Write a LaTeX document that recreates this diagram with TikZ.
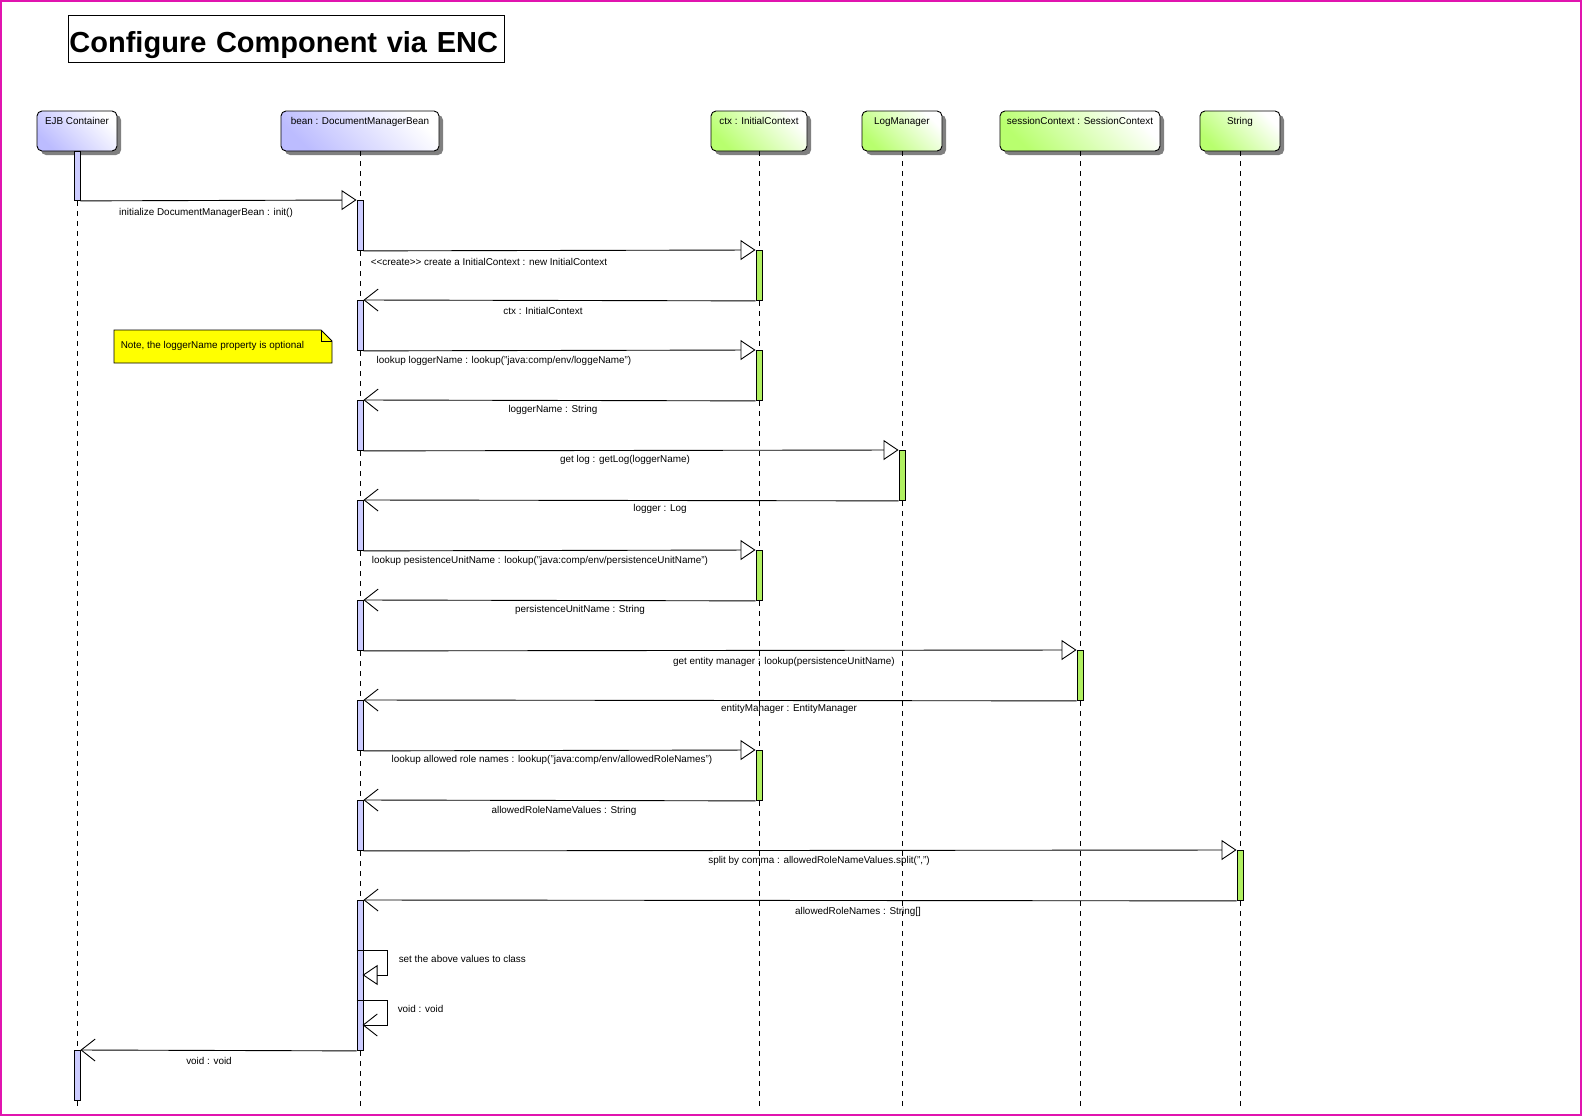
\documentclass[tikz,border=0pt]{standalone}
\usepackage{fontspec}
\setmainfont{Liberation Sans}
\usepackage{tikz}
\usetikzlibrary{arrows.meta,shadows}
\definecolor{lavender}{RGB}{188,188,255}
\definecolor{barblue}{RGB}{204,204,255}
\definecolor{limegreen}{RGB}{184,255,110}
\definecolor{bargreen}{RGB}{176,240,96}
\definecolor{framepink}{RGB}{225,20,175}
\definecolor{noteyellow}{RGB}{255,255,0}

\begin{document}
\begin{tikzpicture}[x=1pt, y=-1pt, line width=0.9pt,
  msg/.style={font=\fontsize{9.9}{10}\selectfont},
  head/.style={draw, rounded corners=5pt, minimum height=40pt, inner ysep=4pt,
    text height=9pt, text depth=23pt, font=\fontsize{9.9}{10}\selectfont,
    drop shadow={shadow xshift=4pt, shadow yshift=-4pt, fill=gray, opacity=1}},
  headblue/.style={head, left color=lavender, right color=white, shading angle=135},
  headgreen/.style={head, left color=limegreen, right color=white, shading angle=135},
  barblue/.style={draw, fill=barblue, minimum width=6pt, minimum height=50pt, inner sep=0pt, anchor=north},
  bargreen/.style={draw, fill=bargreen, minimum width=6pt, minimum height=50pt, inner sep=0pt, anchor=north},
  lifeline/.style={line width=0.8pt, dash pattern=on 5pt off 5pt},
  call/.style={-{Triangle[open, length=15pt, width=20pt]}},
  ret/.style={-{Straight Barb[length=14pt, width=22pt]}}]

  \useasboundingbox (0,0) rectangle (1582,1116);

  % Rahmen
  \draw[framepink, line width=2pt] (1,1) rectangle (1581,1115);

  % Titel
  \node[draw, anchor=north west, minimum height=47pt, inner xsep=1pt, inner ysep=0pt,
    text width=434pt, align=left, text height=27pt, text depth=0pt,
    font=\bfseries\fontsize{29}{29}\selectfont] (title) at (68,15) {Configure Component via ENC};

  % Objekte
  \node[headblue, minimum width=80pt] (ejb) at (77,131) {EJB Container};
  \node[headblue, minimum width=158pt] (bean) at (360,131) {bean : DocumentManagerBean};
  \node[headgreen, minimum width=96pt] (ctx) at (759,131) {ctx : InitialContext};
  \node[headgreen, minimum width=80pt] (logm) at (902,131) {LogManager};
  \node[headgreen, minimum width=160pt] (sess) at (1080,131) {sessionContext : SessionContext};
  \node[headgreen, minimum width=80pt] (strg) at (1240,131) {String};

  % Lebenslinien
  \draw[lifeline] (ejb.south) -- ++(0,955);
  \draw[lifeline] (bean.south) -- ++(0,955);
  \draw[lifeline] (ctx.south) -- ++(0,955);
  \draw[lifeline] (logm.south) -- ++(0,955);
  \draw[lifeline] (sess.south) -- ++(0,955);
  \draw[lifeline] (strg.south) -- ++(0,955);

  % Aktivierungen
  \node[barblue, minimum height=49pt] (e1) at (77,151) {};
  \node[barblue] (e2) at (77,1050) {};
  \node[barblue] (b1) at (360,200) {};
  \node[barblue] (b2) at (360,300) {};
  \node[barblue] (b3) at (360,400) {};
  \node[barblue] (b4) at (360,500) {};
  \node[barblue] (b5) at (360,600) {};
  \node[barblue] (b6) at (360,700) {};
  \node[barblue] (b7) at (360,800) {};
  \node[barblue, minimum height=150pt] (b8) at (360,900) {};
  \node[bargreen] (c1) at (759,250) {};
  \node[bargreen] (c2) at (759,350) {};
  \node[bargreen] (c3) at (759,550) {};
  \node[bargreen] (c4) at (759,750) {};
  \node[bargreen] (l1) at (902,450) {};
  \node[bargreen] (s1) at (1080,650) {};
  \node[bargreen] (t1) at (1240,850) {};

  % Nachrichten
  \draw[call] (e1.south east) -- (b1.north west);
  \node[msg] (m1) at (206,213) {initialize DocumentManagerBean : init()};
  \draw[call] (b1.south east) -- (c1.north west);
  \node[msg] (m2) at (489,262) {<{}<create>{}> create a InitialContext : new InitialContext};
  \draw[ret] (c1.south west) -- (b2.north east);
  \node[msg] (m3) at (543,311) {ctx : InitialContext};
  \draw[call] (b2.south east) -- (c2.north west);
  \node[msg] (m4) at (504,361) {lookup loggerName : lookup("java:comp/env/loggeName")};
  \draw[ret] (c2.south west) -- (b3.north east);
  \node[msg] (m5) at (553,410) {loggerName : String};
  \draw[call] (b3.south east) -- (l1.north west);
  \node[msg] (m6) at (625,460) {get log : getLog(loggerName)};
  \draw[ret] (l1.south west) -- (b4.north east);
  \node[msg] (m7) at (660,509) {logger : Log};
  \draw[call] (b4.south east) -- (c3.north west);
  \node[msg] (m8) at (540,561) {lookup pesistenceUnitName : lookup("java:comp/env/persistenceUnitName")};
  \draw[ret] (c3.south west) -- (b5.north east);
  \node[msg] (m9) at (580,610) {persistenceUnitName : String};
  \draw[call] (b5.south east) -- (s1.north west);
  \node[msg] (m10) at (784,662) {get entity manager : lookup(persistenceUnitName)};
  \draw[ret] (s1.south west) -- (b6.north east);
  \node[msg] (m11) at (789,709) {entityManager : EntityManager};
  \draw[call] (b6.south east) -- (c4.north west);
  \node[msg] (m12) at (552,760) {lookup allowed role names : lookup("java:comp/env/allowedRoleNames")};
  \draw[ret] (c4.south west) -- (b7.north east);
  \node[msg] (m13) at (564,811) {allowedRoleNameValues : String};
  \draw[call] (b7.south east) -- (t1.north west);
  \node[msg] (m14) at (819,861) {split by comma : allowedRoleNameValues.split(",")};
  \draw[ret] (t1.south west) -- (b8.north east);
  \node[msg] (m15) at (858,912) {allowedRoleNames : String[]};

  % Selbstaufrufe
  \draw[call] ([yshift=-50pt]b8.north west) -- ++(31,0) -- ++(0,25) -- ++(-25,0);
  \node[msg, anchor=west] (m16) at (395,959) {set the above values to class};
  \draw[ret] ([yshift=-100pt]b8.north west) -- ++(31,0) -- ++(0,25) -- ++(-25,0);
  \node[msg, anchor=west] (m17) at (394,1009) {void : void};

  % Rueckgabe an den Container
  \draw[ret] (b8.south west) -- (e2.north east);
  \node[msg] (m18) at (209,1061) {void : void};

  % Notiz
  \draw[fill=noteyellow] (114,330) -- (321,330) -- (332,341) -- (332,363) -- (114,363) -- cycle;
  \draw (321,330) -- (321,341) -- (332,341);
  \node[msg, anchor=west] (note) at (117,346) {Note, the loggerName property is optional};
\end{tikzpicture}
\end{document}
